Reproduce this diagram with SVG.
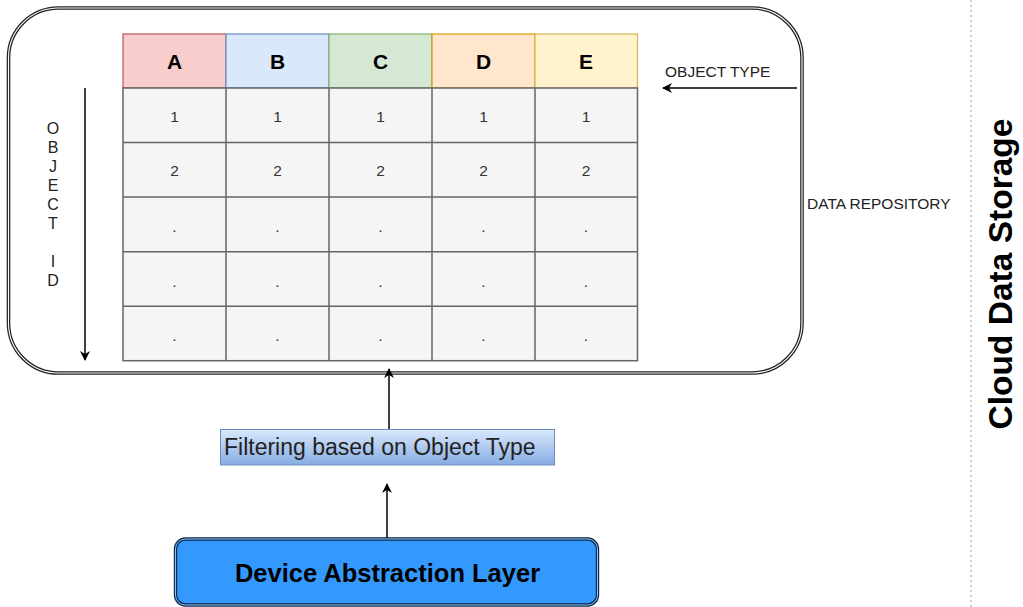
<svg xmlns="http://www.w3.org/2000/svg" width="1023" height="607" viewBox="0 0 1023 607">
<style>
.t{font-family:"Liberation Sans",Arial,Helvetica,sans-serif}
.hdr{font-size:21px;font-weight:bold;fill:#000;text-anchor:middle}
.cell{font-size:15.5px;fill:#333;text-anchor:middle}
.cellr{fill:#f5f5f5;stroke:#666;stroke-width:1.5}
.lbl{font-size:15.5px;fill:#222}
.conn{stroke:#000;stroke-width:1.5;fill:none}
</style>
<defs>
<marker id="arr" viewBox="0 0 10 10" refX="9" refY="5" markerWidth="10" markerHeight="10" markerUnits="userSpaceOnUse" orient="auto">
<path d="M0,0 L10,5 L0,10 L3,5 z" fill="#000"/>
</marker>
<linearGradient id="fg" x1="0" y1="0" x2="0" y2="1">
<stop offset="0" stop-color="#dae8fc"/>
<stop offset="1" stop-color="#86ace3"/>
</linearGradient>
</defs>
<rect width="1023" height="607" fill="#fff"/>

<g id="cloud-boundary">
<line x1="971" y1="0" x2="971" y2="607" stroke="#aaa" stroke-width="1.2" stroke-dasharray="2 3"/>
<text class="t" transform="translate(1012,274) rotate(-90)" text-anchor="middle" font-size="33.5" font-weight="bold" fill="#000">Cloud Data Storage</text>
</g>

<g id="data-repository">
<rect x="8.5" y="8" width="793.5" height="365" rx="50" ry="50" fill="#fff" stroke="#222" stroke-width="3.6"/>
<rect x="8.5" y="8" width="793.5" height="365" rx="50" ry="50" fill="none" stroke="#fff" stroke-width="1.1"/>
<text class="t" x="807" y="209" font-size="15.5" fill="#222">DATA REPOSITORY</text>
</g>

<g id="table">
<rect x="123" y="34" width="103" height="54" fill="#f8cecc" stroke="#b85450" stroke-width="1.2"/>
<rect x="226" y="34" width="103" height="54" fill="#dae8fc" stroke="#6c8ebf" stroke-width="1.2"/>
<rect x="329" y="34" width="103" height="54" fill="#d5e8d4" stroke="#82b366" stroke-width="1.2"/>
<rect x="432" y="34" width="103" height="54" fill="#ffe6cc" stroke="#d79b00" stroke-width="1.2"/>
<rect x="535" y="34" width="102.5" height="54" fill="#fff2cc" stroke="#d6b656" stroke-width="1.2"/>
<text class="t hdr" x="174.5" y="69">A</text>
<text class="t hdr" x="277.5" y="69">B</text>
<text class="t hdr" x="380.5" y="69">C</text>
<text class="t hdr" x="483.5" y="69">D</text>
<text class="t hdr" x="586" y="69">E</text>
<g>
<rect class="cellr" x="123" y="88" width="514.5" height="272.7"/>
<path d="M226,88V360.7M329,88V360.7M432,88V360.7M535,88V360.7M123,142.6H637.5M123,197H637.5M123,251.7H637.5M123,306.3H637.5" stroke="#666" stroke-width="1.5" fill="none"/>
</g>
<g class="t cell">
<text x="174.5" y="121.5">1</text><text x="277.5" y="121.5">1</text><text x="380.5" y="121.5">1</text><text x="483.5" y="121.5">1</text><text x="586" y="121.5">1</text>
<text x="174.5" y="176">2</text><text x="277.5" y="176">2</text><text x="380.5" y="176">2</text><text x="483.5" y="176">2</text><text x="586" y="176">2</text>
<text x="174.5" y="232">.</text><text x="277.5" y="232">.</text><text x="380.5" y="232">.</text><text x="483.5" y="232">.</text><text x="586" y="232">.</text>
<text x="174.5" y="286.5">.</text><text x="277.5" y="286.5">.</text><text x="380.5" y="286.5">.</text><text x="483.5" y="286.5">.</text><text x="586" y="286.5">.</text>
<text x="174.5" y="341">.</text><text x="277.5" y="341">.</text><text x="380.5" y="341">.</text><text x="483.5" y="341">.</text><text x="586" y="341">.</text>
</g>
</g>

<g id="object-type-label">
<text class="t lbl" x="665" y="76.5">OBJECT TYPE</text>
</g>

<g id="object-id-label" class="t" font-size="16" fill="#222" text-anchor="middle">
<text x="53" y="134">O</text>
<text x="53" y="153">B</text>
<text x="53" y="172">J</text>
<text x="53" y="191">E</text>
<text x="53" y="210">C</text>
<text x="53" y="229">T</text>
<text x="53" y="267">I</text>
<text x="53" y="286">D</text>
</g>

<g id="filtering">
<rect x="220.5" y="429.5" width="334" height="35.5" fill="url(#fg)" stroke="#6c8ebf" stroke-width="1"/>
<text class="t" x="224" y="455" font-size="23" fill="#222">Filtering based on Object Type</text>
</g>

<g id="device-abstraction-layer">
<rect x="175.5" y="539" width="422" height="66" rx="10" ry="10" fill="#3399ff" stroke="#0d2a4a" stroke-width="3.4"/>
<rect x="175.5" y="539" width="422" height="66" rx="10" ry="10" fill="none" stroke="#8cc4ff" stroke-width="1"/>
<text class="t" x="387.5" y="582" text-anchor="middle" font-size="25.5" font-weight="bold" fill="#000">Device Abstraction Layer</text>
</g>

<g id="connectors">
<line class="conn" x1="797" y1="88" x2="663" y2="88" marker-end="url(#arr)"/>
<line class="conn" x1="85" y1="88" x2="85" y2="360" marker-end="url(#arr)"/>
<line class="conn" x1="389" y1="429" x2="389" y2="369" marker-end="url(#arr)"/>
<line class="conn" x1="387" y1="538" x2="387" y2="484" marker-end="url(#arr)"/>
</g>
</svg>
